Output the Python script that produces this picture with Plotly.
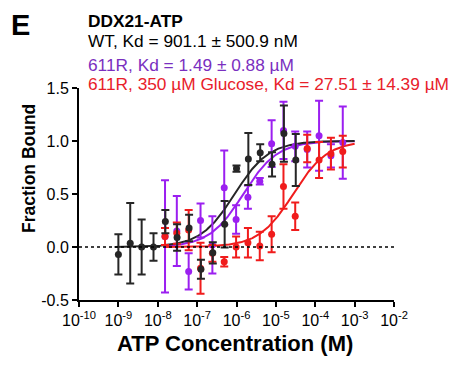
import numpy as np
import plotly.graph_objects as go

# ---------------- data ----------------
conc_wt = [1e-9, 2e-9, 3.9e-9, 7.8e-9, 1.56e-8, 3.1e-8, 6.25e-8, 1.25e-7,
           2.5e-7, 5e-7, 1e-6, 2e-6, 4e-6, 8e-6, 1.6e-5, 3.2e-5]
fb_wt = [-0.07, 0.035, 0.0, 0.0, 0.24, 0.09, 0.18, -0.21,
         -0.055, 0.215, 0.74, 0.83, 0.89, 0.78, 1.07, 0.82]
err_wt = [0.19, 0.38, 0.26, 0.13, 0.11, 0.125, 0.125, 0.09,
          0.10, 0.22, 0.03, 0.245, 0.08, 0.115, 0.265, 0.245]

conc_mut = [1.53e-8, 3.05e-8, 6.1e-8, 1.22e-7, 2.44e-7, 4.88e-7, 9.77e-7, 1.95e-6,
            3.9e-6, 7.8e-6, 1.56e-5, 3.1e-5, 6.25e-5, 1.25e-4, 2.5e-4, 5e-4]
fb_611r = [0.10, 0.15, -0.23, 0.25, 0.02, 0.56, 0.26, 0.47,
           0.62, 0.975, 1.10, 0.95, 0.92, 1.05, 0.86, 0.985]
err_611r = [0.53, 0.33, 0.17, 0.16, 0.27, 0.35, 0.135, 0.11,
            0.03, 0.22, 0.27, 0.14, 0.17, 0.33, 0.11, 0.34]

fb_glu = [0.10, 0.13, 0.16, -0.20, -0.06, -0.14, 0.0, 0.04,
          0.01, 0.12, 0.57, 0.29, 0.93, 0.82, 0.88, 0.90]
err_glu = [0.08, 0.10, 0.19, 0.24, 0.08, 0.045, 0.10, 0.14,
           0.135, 0.17, 0.21, 0.13, 0.13, 0.17, 0.15, 0.15]

kd_values = {"wt": 901.1e-9, "611r": 1.49e-6, "glu": 27.51e-6}
fit_ranges = {"wt": (8e-10, 1e-3), "611r": (1.5e-8, 1e-3), "glu": (1.5e-8, 1e-3)}

x_tick_exp = [-10, -9, -8, -7, -6, -5, -4, -3, -2]
y_ticks = [-0.5, 0.0, 0.5, 1.0, 1.5]
y_ticktext = ["-0.5", "0.0", "0.5", "1.0", "1.5"]

title_lines = [
    ("DDX21-ATP", "#000000", True),
    ("WT, Kd = 901.1 ± 500.9 nM", "#000000", False),
    ("611R, Kd = 1.49 ± 0.88 µM", "#7a2fc0", False),
    ("611R, 350 µM Glucose, Kd = 27.51 ± 14.39 µM", "#e8202a", False),
]

BLACK = "#262626"
PURPLE = "#9b1ff0"
RED = "#f01c1c"

FONT = "Liberation Sans, Arial, sans-serif"

# the page body has an 8px margin: work in window pixels and shift
OFF = 8
FIG_W, FIG_H = 456 - OFF, 365 - OFF

fig = go.Figure()


def fit_curve(key):
    lo, hi = fit_ranges[key]
    xs = np.logspace(np.log10(lo), np.log10(hi), 300)
    return xs, xs / (kd_values[key] + xs)


def add_series(x, y, e, color):
    fig.add_trace(go.Scatter(
        x=x, y=y, mode="markers",
        marker=dict(color=color, size=7),
        error_y=dict(type="data", array=e, color=color, thickness=2, width=4),
        showlegend=False, cliponaxis=False))


for key, color in [("611r", PURPLE), ("glu", RED), ("wt", BLACK)]:
    xs, ys = fit_curve(key)
    fig.add_trace(go.Scatter(x=xs, y=ys, mode="lines",
                             line=dict(color=color, width=2),
                             showlegend=False, hoverinfo="skip"))

add_series(conc_mut, fb_611r, err_611r, PURPLE)
add_series(conc_mut, fb_glu, err_glu, RED)
add_series(conc_wt, fb_wt, err_wt, BLACK)

# plot area in window pixels: x 79..394, y 88..300
L, R, T, B = 79, 394, 88, 300
W, H = R - L, B - T


def px(xpix):
    return (xpix - L) / W


def py(ypix):
    return (B - ypix) / H


annotations = []
annotations.append(dict(text="<b>E</b>", x=px(9), y=py(25), xref="paper", yref="paper",
                        xanchor="left", yanchor="middle", showarrow=False,
                        font=dict(family=FONT, size=29, color="#000000")))
ys_title = [20.8, 41.3, 64.8, 84.5]
for (txt, col, bold), yp in zip(title_lines, ys_title):
    annotations.append(dict(text=f"<b>{txt}</b>" if bold else txt,
                            x=px(86), y=py(yp), xref="paper", yref="paper",
                            xanchor="left", yanchor="middle", showarrow=False,
                            font=dict(family=FONT, size=17.3, color=col)))
annotations.append(dict(text="<b>ATP Concentration (M)</b>", x=px(235), y=py(343),
                        xref="paper", yref="paper", xanchor="center", yanchor="middle",
                        showarrow=False, font=dict(family=FONT, size=22, color="#000000")))
annotations.append(dict(text="<b>Fraction Bound</b>", x=px(29), y=py(169), textangle=-90,
                        xref="paper", yref="paper", xanchor="center", yanchor="middle",
                        showarrow=False, font=dict(family=FONT, size=17.5, color="#000000")))

fig.add_shape(type="line", xref="paper", yref="y", x0=0, x1=1.003, y0=0, y1=0,
              line=dict(color="#000000", width=1.5, dash="dot"))

fig.update_layout(
    width=FIG_W, height=FIG_H,
    margin=dict(l=L - OFF, r=456 - R, t=T - OFF, b=365 - B, pad=0),
    plot_bgcolor="white", paper_bgcolor="white",
    font=dict(family=FONT, color="#000000"),
    annotations=annotations,
    xaxis=dict(type="log", range=[-10, -2], showgrid=False, zeroline=False,
               showline=True, linecolor="#000000", linewidth=2,
               ticks="outside", ticklen=5, tickwidth=2, tickcolor="#000000",
               tickvals=[10.0 ** e for e in x_tick_exp],
               ticktext=[f"10<sup>{e}</sup>" for e in x_tick_exp],
               tickfont=dict(family=FONT, size=16, color="#000000")),
    yaxis=dict(range=[-0.5, 1.5], showgrid=False, zeroline=False,
               showline=True, linecolor="#000000", linewidth=2,
               ticks="outside", ticklen=5, tickwidth=2, tickcolor="#000000",
               tickvals=y_ticks, ticktext=y_ticktext,
               tickfont=dict(family=FONT, size=16, color="#000000")),
)

fig.write_html("out.html")
